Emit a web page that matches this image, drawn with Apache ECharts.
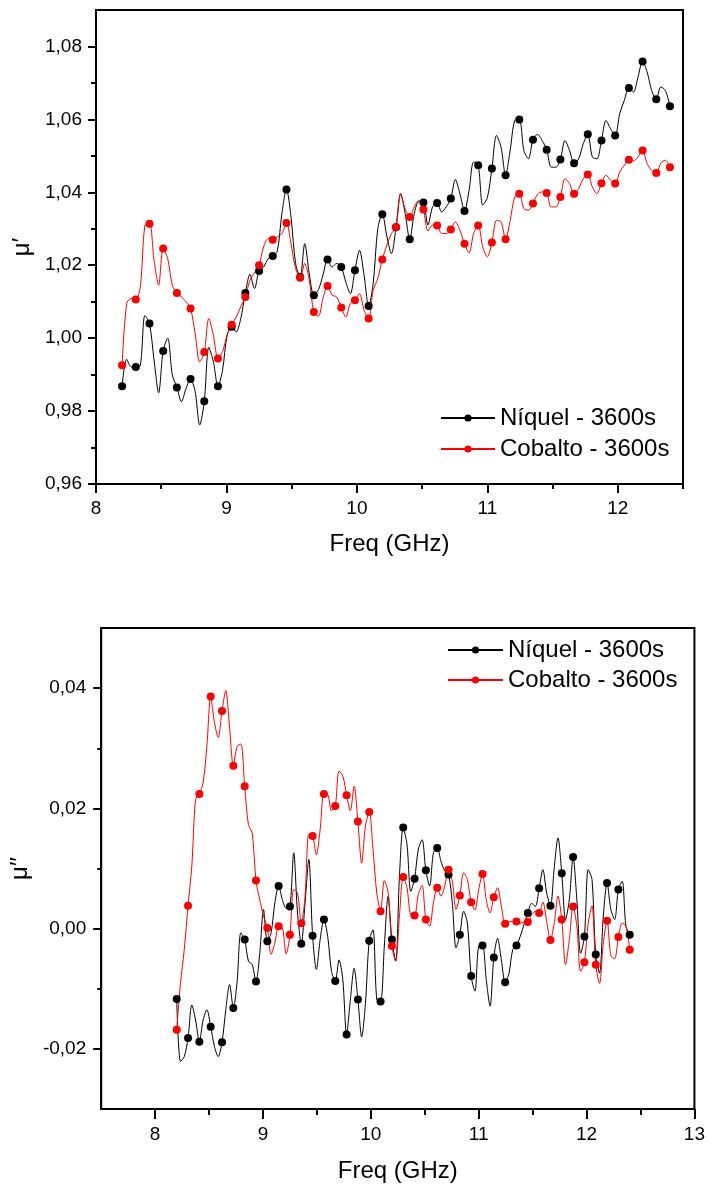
<!DOCTYPE html>
<html>
<head>
<meta charset="utf-8">
<script src="https://cdn.jsdelivr.net/npm/echarts@6/dist/echarts.min.js"></script>
<style>
  html, body { margin: 0; padding: 0; background: #fff; }
  #chart { width: 708px; height: 1186px; }
</style>
</head>
<body>
<div id="chart"></div>
<script>
// series names
var seriesNames = ['Níquel - 3600s', 'Cobalto - 3600s'];

// frequency grid: 8.2 .. 12.4 GHz, a marker on every 3rd point
var freqStart = 8.2;
var freqStep = 0.035;

// mu' (top chart)
var niquelMu1 = [
  0.9868,0.9942,0.9921, 0.9921,0.9926,1.0062, 1.0040,0.9940,0.9850, 0.9965,1.0000,0.9899,
  0.9865,0.9826,0.9862, 0.9888,0.9853,0.9762, 0.9827,0.9975,0.9935, 0.9868,0.9912,1.0008,
  1.0031,1.0017,1.0054, 1.0124,1.0175,1.0136, 1.0184,1.0195,1.0218, 1.0225,1.0239,1.0342,
  1.0408,1.0332,1.0205, 1.0168,1.0259,1.0177, 1.0118,1.0133,1.0173, 1.0216,1.0195,1.0205,
  1.0195,1.0154,1.0122, 1.0186,1.0241,1.0173, 1.0088,1.0150,1.0300, 1.0340,1.0278,1.0232,
  1.0304,1.0396,1.0342, 1.0271,1.0342,1.0374, 1.0372,1.0310,1.0360, 1.0371,1.0346,1.0360,
  1.0383,1.0435,1.0396, 1.0349,1.0405,1.0483, 1.0474,1.0365,1.0385, 1.0465,1.0556,1.0524,
  1.0447,1.0515,1.0597, 1.0600,1.0515,1.0492, 1.0544,1.0559,1.0542, 1.0517,1.0469,1.0469,
  1.0490,1.0542,1.0515, 1.0480,1.0492,1.0533, 1.0559,1.0497,1.0492, 1.0542,1.0597,1.0574,
  1.0556,1.0616,1.0652, 1.0686,1.0675,1.0716, 1.0759,1.0730,1.0679, 1.0655,1.0689,1.0679,
  1.0636
];
var cobaltoMu1 = [
  0.9926,1.0095,1.0109, 1.0106,1.0141,1.0310, 1.0314,1.0214,1.0145, 1.0246,1.0218,1.0145,
  1.0124,1.0113,1.0100, 1.0081,1.0013,0.9935, 0.9962,1.0054,1.0008, 0.9944,0.9963,1.0008,
  1.0037,1.0058,1.0086, 1.0113,1.0159,1.0179, 1.0200,1.0250,1.0273, 1.0270,1.0278,1.0287,
  1.0316,1.0259,1.0191, 1.0166,1.0205,1.0159, 1.0072,1.0060,1.0109, 1.0143,1.0118,1.0113,
  1.0084,1.0058,1.0095, 1.0104,1.0122,1.0077, 1.0054,1.0132,1.0163, 1.0216,1.0255,1.0287,
  1.0305,1.0396,1.0355, 1.0332,1.0360,1.0378, 1.0353,1.0294,1.0310, 1.0309,1.0287,1.0287,
  1.0298,1.0319,1.0296, 1.0259,1.0234,1.0287, 1.0309,1.0250,1.0223, 1.0262,1.0323,1.0319,
  1.0271,1.0323,1.0387, 1.0396,1.0355,1.0351, 1.0369,1.0395,1.0401, 1.0398,1.0360,1.0360,
  1.0387,1.0437,1.0424, 1.0396,1.0410,1.0437, 1.0449,1.0415,1.0396, 1.0425,1.0447,1.0433,
  1.0424,1.0456,1.0474, 1.0489,1.0486,1.0497, 1.0515,1.0479,1.0460, 1.0453,1.0480,1.0488,
  1.0469
];

// mu'' (bottom chart)
var niquelMu2 = [
  -0.0117,-0.0221,-0.0213, -0.0182,-0.0127,-0.0152, -0.0188,-0.0152,-0.0135, -0.0163,-0.0196,-0.0213,
  -0.0189,-0.0135,-0.0093, -0.0132,-0.0088,-0.0007, -0.0018,-0.0054,-0.0060, -0.0088,-0.0041,0.0032,
  -0.0021,-0.0007,0.0043, 0.0071,0.0048,0.0034, 0.0037,0.0126,0.0026, -0.0025,0.0043,0.0115,
  -0.0012,-0.0068,-0.0018, 0.0015,-0.0013,-0.0071, -0.0087,-0.0052,-0.0085, -0.0176,-0.0118,-0.0066,
  -0.0118,-0.0180,-0.0124, -0.0020,-0.0002,-0.0118, -0.0121,-0.0029,0.0054, -0.0018,-0.0054,0.0087,
  0.0168,0.0140,0.0062, 0.0083,0.0132,0.0148, 0.0097,0.0071,0.0126, 0.0134,0.0112,0.0096,
  0.0090,0.0043,-0.0032, -0.0010,0.0029,0.0009, -0.0079,-0.0104,-0.0029, -0.0028,-0.0085,-0.0129,
  -0.0048,-0.0016,-0.0052, -0.0089,-0.0075,-0.0035, -0.0028,-0.0013,0.0007, 0.0026,0.0042,0.0037,
  0.0067,0.0098,0.0059, 0.0038,0.0101,0.0151, 0.0092,0.0015,0.0048, 0.0119,0.0048,-0.0041,
  -0.0013,0.0098,0.0082, -0.0043,-0.0074,0.0021, 0.0076,0.0032,0.0015, 0.0065,0.0079,0.0004,
  -0.0010
];
var cobaltoMu2 = [
  -0.0168,-0.0091,-0.0035, 0.0038,0.0104,0.0215, 0.0224,0.0243,0.0304, 0.0386,0.0343,0.0318,
  0.0362,0.0396,0.0335, 0.0271,0.0303,0.0307, 0.0237,0.0173,0.0159, 0.0080,0.0048,0.0021,
  0.0001,-0.0043,-0.0024, 0.0004,0.0001,-0.0042, -0.0010,0.0065,0.0059, 0.0009,0.0054,0.0157,
  0.0154,0.0123,0.0165, 0.0224,0.0223,0.0196, 0.0204,0.0262,0.0254, 0.0222,0.0196,0.0237,
  0.0178,0.0109,0.0171, 0.0194,0.0132,0.0059, 0.0029,0.0080,0.0060, -0.0029,-0.0054,0.0021,
  0.0086,0.0068,0.0023, 0.0022,0.0057,0.0072, 0.0015,0.0004,0.0043, 0.0068,0.0054,0.0071,
  0.0098,0.0079,0.0032, 0.0055,0.0093,0.0082, 0.0044,0.0031,0.0065, 0.0091,0.0048,0.0026,
  0.0052,0.0068,0.0037, 0.0008,0.0011,0.0012, 0.0012,0.0009,0.0011, 0.0011,0.0023,0.0029,
  0.0026,0.0044,0.0012, -0.0019,0.0009,0.0054, 0.0015,-0.0060,-0.0018, 0.0037,0.0004,-0.0071,
  -0.0056,0.0009,0.0038, -0.0060,-0.0091,-0.0024, 0.0013,-0.0045,-0.0050, -0.0014,0.0009,0.0004,
  -0.0035
];

// tick positions
var topXTicks = [8, 9, 10, 11, 12];
var topXMinor = [8.5, 9.5, 10.5, 11.5, 12.5];
var topYTicks = [0.96, 0.98, 1.00, 1.02, 1.04, 1.06, 1.08];
var topYMinor = [0.97, 0.99, 1.01, 1.03, 1.05, 1.07];
var botXTicks = [8, 9, 10, 11, 12, 13];
var botXMinor = [8.5, 9.5, 10.5, 11.5, 12.5];
var botYTicks = [-0.02, 0.00, 0.02, 0.04];
var botYMinor = [-0.01, 0.01, 0.03];

var FONT = '"Liberation Sans", Arial, sans-serif';

function commaText(v) {
    return v.toFixed(2).replace('.', ',');
}

// main axis with labels + long ticks
function mainAxis(gridIndex, min, max, ticks, fmt, margin, tickLen, name, nameGap) {
    return {
        type: 'value',
        gridIndex: gridIndex,
        min: min,
        max: max,
        name: name,
        nameLocation: 'middle',
        nameGap: nameGap,
        nameTextStyle: { fontSize: 24, color: '#000', fontFamily: FONT },
        axisLine: { show: true, onZero: false, lineStyle: { color: '#000', width: 2 } },
        axisTick: { show: true, inside: false, length: tickLen, customValues: ticks, lineStyle: { color: '#000', width: 2 } },
        axisLabel: { show: true, customValues: ticks, formatter: fmt, margin: margin, fontSize: 19, color: '#000', fontFamily: FONT },
        splitLine: { show: false }
    };
}

// overlay axis carrying only the short minor ticks
function minorAxis(gridIndex, min, max, ticks, tickLen, position) {
    return {
        type: 'value',
        gridIndex: gridIndex,
        position: position,
        min: min,
        max: max,
        axisLine: { show: false, onZero: false },
        axisTick: { show: true, inside: false, length: tickLen, customValues: ticks, lineStyle: { color: '#000', width: 2 } },
        axisLabel: { show: false },
        splitLine: { show: false }
    };
}

function buildSeries(name, values, color, xi, yi) {
    return {
        type: 'line',
        name: name,
        xAxisIndex: xi,
        yAxisIndex: yi,
        data: values.map(function (v, i) {
            return [+(freqStart + i * freqStep).toFixed(4), v];
        }),
        smooth: 0.3,
        showAllSymbol: true,
        symbol: 'circle',
        symbolSize: function (val, params) {
            return params.dataIndex % 3 === 0 ? 8 : 0;
        },
        lineStyle: { color: color, width: 1 },
        itemStyle: { color: color },
        emphasis: { disabled: true },
        z: 3
    };
}

var intFmt = function (v) { return String(v); };

var chart = echarts.init(document.getElementById('chart'));
chart.setOption({
    animation: false,
    backgroundColor: '#fff',
    grid: [
        { left: 96, top: 10, width: 587, height: 474, show: true, borderColor: '#000', borderWidth: 2 },
        { left: 100, top: 628, width: 597, height: 481, show: true, borderColor: '#000', borderWidth: 2 }
    ],
    legend: [
        {
            data: seriesNames, orient: 'vertical', left: 440, top: 404, padding: 0,
            itemWidth: 54, itemHeight: 9, itemGap: 3,
            textStyle: { fontSize: 24, color: '#000', fontFamily: FONT, lineHeight: 28 }
        },
        {
            data: seriesNames, orient: 'vertical', left: 447, top: 636, padding: 0,
            itemWidth: 55, itemHeight: 9, itemGap: 2,
            textStyle: { fontSize: 24, color: '#000', fontFamily: FONT, lineHeight: 28 }
        }
    ],
    xAxis: [
        mainAxis(0, 8, 12.5, topXTicks, intFmt, 15, 9, 'Freq (GHz)', 48),
        minorAxis(0, 8, 12.5, topXMinor, 5, 'bottom'),
        mainAxis(1, 7.5, 13, botXTicks, intFmt, 16, 10, 'Freq (GHz)', 50),
        minorAxis(1, 7.5, 13, botXMinor, 6, 'bottom')
    ],
    yAxis: [
        mainAxis(0, 0.96, 1.09, topYTicks, commaText, 14, 8, 'μ′', 62),
        minorAxis(0, 0.96, 1.09, topYMinor, 5, 'left'),
        mainAxis(1, -0.03, 0.05, botYTicks, commaText, 15, 8, 'μ′′', 66),
        minorAxis(1, -0.03, 0.05, botYMinor, 4, 'left')
    ],
    series: [
        buildSeries(seriesNames[0], niquelMu1, '#000000', 0, 0),
        buildSeries(seriesNames[1], cobaltoMu1, '#ff0000', 0, 0),
        buildSeries(seriesNames[0], niquelMu2, '#000000', 2, 2),
        buildSeries(seriesNames[1], cobaltoMu2, '#ff0000', 2, 2)
    ]
});
</script>
</body>
</html>
